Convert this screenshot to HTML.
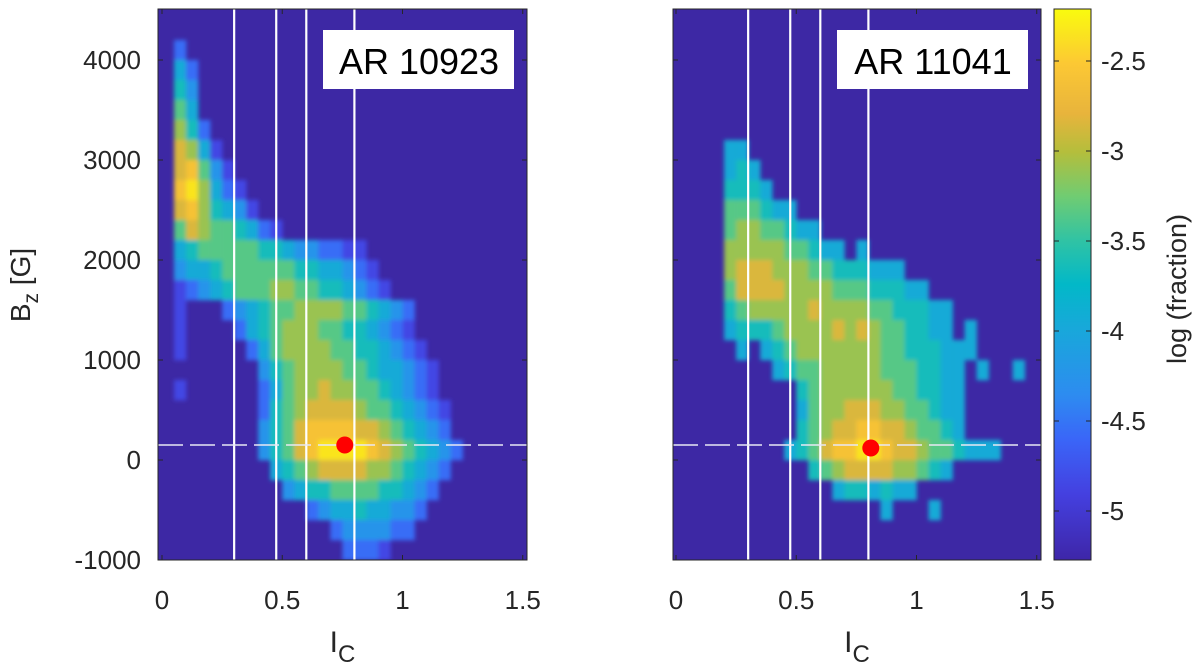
<!DOCTYPE html>
<html><head><meta charset="utf-8"><style>
html,body{margin:0;padding:0;background:#fff;}
svg{display:block;font-family:"Liberation Sans",Arial,sans-serif;}
</style></head><body>
<svg id="fig" width="1200" height="670" viewBox="0 0 1200 670" xmlns="http://www.w3.org/2000/svg">
<defs>
<clipPath id="clipL"><rect x="158" y="9" width="369" height="551"/></clipPath>
<clipPath id="clipR"><rect x="673" y="9" width="368" height="551"/></clipPath>
<filter id="soft" x="-5%" y="-5%" width="110%" height="110%"><feGaussianBlur stdDeviation="2.2"/></filter>
<linearGradient id="cbgrad" x1="0" y1="1" x2="0" y2="0">
<stop offset="0" stop-color="#3e26a8"/><stop offset="0.12" stop-color="#4440e0"/>
<stop offset="0.22" stop-color="#3a66f8"/><stop offset="0.30" stop-color="#2d8cf0"/>
<stop offset="0.42" stop-color="#18a8da"/><stop offset="0.50" stop-color="#02b8c8"/>
<stop offset="0.58" stop-color="#30c3a4"/><stop offset="0.66" stop-color="#70cc72"/>
<stop offset="0.74" stop-color="#b4be3c"/><stop offset="0.81" stop-color="#e8b43c"/>
<stop offset="0.90" stop-color="#fcc834"/><stop offset="1" stop-color="#f9fb0e"/>
</linearGradient>
</defs>
<g id="panelL"></g>
<g id="panelR"></g>
<g id="cbar"></g>
</svg>
<script>
// ---- data ----
const icTicks = [0, 0.5, 1, 1.5];
const icTickLabels = ["0", "0.5", "1", "1.5"];
const bzTicks = [-1000, 0, 1000, 2000, 3000, 4000];
const bzTickLabels = ["-1000", "0", "1000", "2000", "3000", "4000"];
const cbTicks = [-5, -4.5, -4, -3.5, -3, -2.5];
const cbTickLabels = ["-5", "-4.5", "-4", "-3.5", "-3", "-2.5"];
const icBinWidth = 0.05;
const bzBinWidth = 200;
const bzTopBin = 4600;
// level code -> log(fraction)
const levelValues = [-4.85, -4.55, -4.25, -3.95, -3.65, -3.35, -3.1, -2.85, -2.6, -2.35];
const thresholdsIc = [0.3, 0.475, 0.6, 0.8];
const thresholdBz = 150;
const peakLeft = [0.76, 150];
const peakRight = [0.81, 120];
const gridLeft = [
"",
"",
".1",
".31",
".42",
".53",
".641",
".7630",
".78520",
".896310",
".7864320",
".576554310",
".3455555443221100",
".23345555554433210",
".012345556655443210",
".0...1234556666554321",
".0....134566655443210",
".0.....135666655443210",
"........245666655433210",
".0......135667665543210",
"........1456777765543210",
"........2457888877654321",
"........24578999987654321",
".........345677776654321",
"..........2344555544321",
"............1233433221",
"..............1222211",
"...............1110"
];
const gridRight = [
"","","","","","","",
"....33",
"....343",
"....4443",
"....555433",
"....56655433",
"....6666655433.3",
"....677766655444333",
"....57777666655544433",
"....4566666766665544433",
"....3444566667676554433.3",
".....3.345666666655444333",
"........3455666665554433.3..3",
"..........45666666554433",
"..........35667776655433",
"..........45677887765543",
".........345788998776554333",
"...........456777766543",
".............3443433",
".................3...3",
"",
""
];

// ---- scales ----
const cbMin = -5.27, cbMax = -2.21;
function xL(v){ return 162 + v*240.5; }
function xR(v){ return 676 + v*240.5; }
function yB(v){ return 460 - v/10; }
function yCb(v){ return 511 - (v + 5)*180; }
const stops = [[0,"#3e26a8"],[0.12,"#4440e0"],[0.22,"#3a66f8"],[0.30,"#2d8cf0"],[0.42,"#18a8da"],[0.50,"#02b8c8"],[0.58,"#30c3a4"],[0.66,"#70cc72"],[0.74,"#b4be3c"],[0.81,"#e8b43c"],[0.90,"#fcc834"],[1,"#f9fb0e"]];
function hex(c){return [parseInt(c.slice(1,3),16),parseInt(c.slice(3,5),16),parseInt(c.slice(5,7),16)];}
function color(v){
  let t = (v - cbMin)/(cbMax - cbMin); t = Math.max(0, Math.min(1, t));
  for (let i=1;i<stops.length;i++){
    if (t <= stops[i][0]){
      const a=hex(stops[i-1][1]), b=hex(stops[i][1]);
      const f=(t-stops[i-1][0])/(stops[i][0]-stops[i-1][0]);
      return "rgb("+a.map((x,k)=>Math.round(x+(b[k]-x)*f)).join(",")+")";
    }
  }
  return stops[stops.length-1][1];
}
const NS = "http://www.w3.org/2000/svg";
function mk(tag, attrs, parent){
  const e = document.createElementNS(NS, tag);
  for (const k in attrs) e.setAttribute(k, attrs[k]);
  parent.appendChild(e); return e;
}

function drawPanel(g, xs, grid, x0, x1, clipId, label, peak, showYLabels){
  const bg = mk("rect", {x:x0, y:9, width:x1-x0, height:551, fill:"#3d28a4"}, g);
  
  
  const clip = mk("g", {"clip-path":"url(#"+clipId+")"}, g);
  const cells = mk("g", {filter:"url(#soft)"}, clip);
  
  
  grid.forEach((row, r) => {
    const bHi = bzTopBin - r*bzBinWidth, bLo = bHi - bzBinWidth;
    for (let i=0;i<row.length;i++){
      const ch = row[i]; if (ch === ".") continue;
      const v = levelValues[+ch];
      const xa = xs(i*icBinWidth), xb = xs((i+1)*icBinWidth);
      const c = mk("rect", {x:xa, y:yB(bHi), width:xb-xa+0.3, height:yB(bLo)-yB(bHi)+0.3, fill:color(v)}, cells);
      
      
    }
  });
  thresholdsIc.forEach(t => {
    const l = mk("line", {x1:xs(t), x2:xs(t), y1:9, y2:560, stroke:"#ffffff", "stroke-width":2.2}, g);
    
    
  });
  const dl = mk("line", {x1:x0, x2:x1, y1:yB(thresholdBz), y2:yB(thresholdBz), stroke:"#e8e8f4", "stroke-width":1.6, "stroke-dasharray":"25 7"}, g);
  
  
  const dot = mk("circle", {cx:xs(peak[0]), cy:yB(peak[1]), r:8.5, fill:"#ff0000"}, g);
  
  
  const box = mk("rect", {x:x1-204, y:30, width:191, height:59, fill:"#ffffff"}, g);
  
  
  const lt = mk("text", {x:x1-108, y:74, "font-size":36, "text-anchor":"middle", fill:"#000"}, g);
  lt.textContent = label;
  
  
  const fr = mk("rect", {x:x0, y:9, width:x1-x0, height:551, fill:"none", stroke:"#262626", "stroke-width":1}, g);
  
  
  icTicks.forEach((t, k) => {
    const x = xs(t);
    mk("line", {x1:x, x2:x, y1:560, y2:555, stroke:"#262626"}, g);
    mk("line", {x1:x, x2:x, y1:9, y2:14, stroke:"#262626"}, g);
    const tl = mk("text", {x:x, y:609, "font-size":26, "text-anchor":"middle", fill:"#262626"}, g);
    tl.textContent = icTickLabels[k];
    
    
  });
  bzTicks.forEach((t, k) => {
    const y = yB(t);
    mk("line", {x1:x0, x2:x0+5, y1:y, y2:y, stroke:"#262626"}, g);
    mk("line", {x1:x1, x2:x1-5, y1:y, y2:y, stroke:"#262626"}, g);
    if (showYLabels){
      const tl = mk("text", {x:141, y:y+9, "font-size":26, "text-anchor":"end", fill:"#262626"}, g);
      tl.textContent = bzTickLabels[k];
      
      
    }
  });
  const xt = mk("text", {x:(x0+x1)/2, y:652, "font-size":30, "text-anchor":"middle", fill:"#262626"}, g);
  xt.innerHTML = 'I<tspan font-size="24" dy="10">C</tspan>';
  
  
}

drawPanel(document.getElementById("panelL"), xL, gridLeft, 158, 527, "clipL", "AR 10923", peakLeft, true);
drawPanel(document.getElementById("panelR"), xR, gridRight, 673, 1041, "clipR", "AR 11041", peakRight, false);

const gl = document.getElementById("panelL");
const yt = mk("text", {transform:"translate(30,285) rotate(-90)", "font-size":28, "text-anchor":"middle", fill:"#262626"}, gl);
yt.innerHTML = 'B<tspan font-size="21" dy="8">z</tspan><tspan dy="-8"> [G]</tspan>';



const cb = document.getElementById("cbar");
const cr = mk("rect", {x:1054, y:9, width:37, height:551, fill:"url(#cbgrad)", stroke:"#262626", "stroke-width":1}, cb);


cbTicks.forEach((t, k) => {
  const y = yCb(t);
  mk("line", {x1:1091, x2:1086, y1:y, y2:y, stroke:"#262626"}, cb);
  mk("line", {x1:1054, x2:1059, y1:y, y2:y, stroke:"#262626"}, cb);
  const tl = mk("text", {x:1101, y:y+9, "font-size":26, fill:"#262626"}, cb);
  tl.textContent = cbTickLabels[k];
  
  
});
const ct = mk("text", {transform:"translate(1186,289) rotate(-90)", "font-size":27, "text-anchor":"middle", fill:"#262626"}, cb);
ct.textContent = "log (fraction)";


</script>
</body></html>
